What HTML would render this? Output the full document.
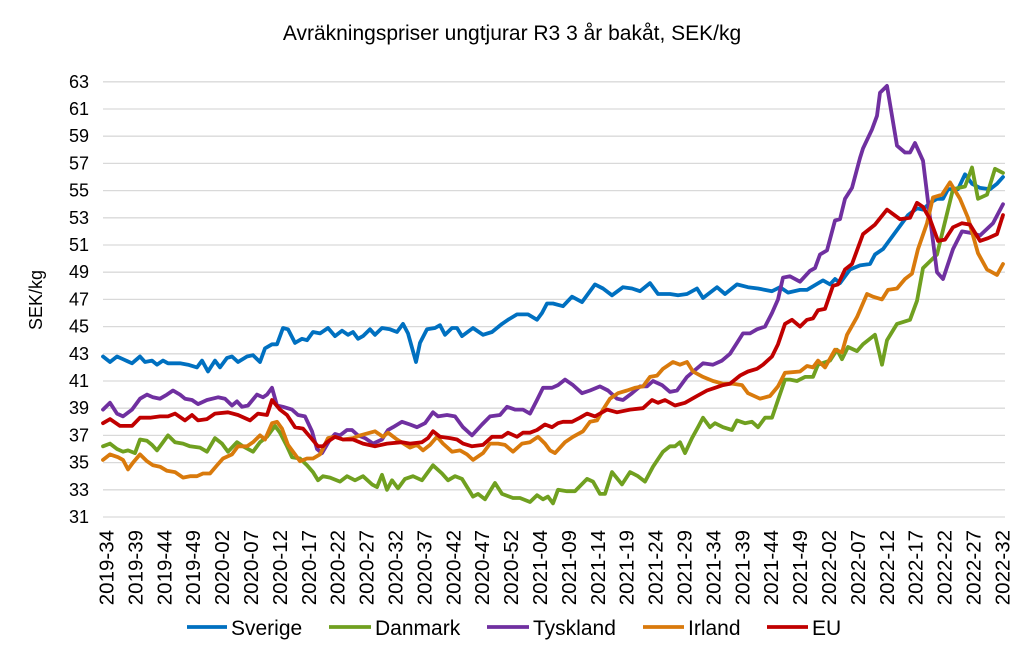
<!DOCTYPE html>
<html><head><meta charset="utf-8"><style>
html,body{margin:0;padding:0;background:#fff;}
svg{display:block;font-family:"Liberation Sans",Arial,sans-serif;}
</style></head><body>
<svg id="c" width="1023" height="658" viewBox="0 0 1023 658" xmlns="http://www.w3.org/2000/svg">
<rect width="1023" height="658" fill="#fff"/>
<text x="512" y="40" font-size="21" text-anchor="middle" fill="#000">Avräkningspriser ungtjurar R3 3 år bakåt, SEK/kg</text>
<text transform="translate(42,300) rotate(-90)" font-size="18" text-anchor="middle" fill="#000">SEK/kg</text>
<g id="grid"></g>
<g id="ylab" font-size="18" text-anchor="end" fill="#000"></g>
<g id="xlab" font-size="20.5" text-anchor="end" fill="#000"></g>
<g id="series" fill="none" stroke-width="3.8" stroke-linejoin="round" stroke-linecap="round"></g>
<g font-size="21" fill="#000">
<line x1="187" y1="627" x2="227" y2="627" stroke="#0070C0" stroke-width="3.8"/><text x="231" y="635">Sverige</text>
<line x1="329" y1="627" x2="371" y2="627" stroke="#70A020" stroke-width="3.8"/><text x="375" y="635">Danmark</text>
<line x1="487" y1="627" x2="529" y2="627" stroke="#7030A0" stroke-width="3.8"/><text x="533" y="635">Tyskland</text>
<line x1="643" y1="627" x2="684" y2="627" stroke="#D97A0C" stroke-width="3.8"/><text x="688" y="635">Irland</text>
<line x1="767" y1="627" x2="808" y2="627" stroke="#C00000" stroke-width="3.8"/><text x="812" y="635">EU</text>
</g>
</svg>
<script>
var NS="http://www.w3.org/2000/svg";
function Y(v){return 517-(v-31)*13.6;}
function el(t,a,p,txt){var e=document.createElementNS(NS,t);for(var k in a)e.setAttribute(k,a[k]);if(txt)e.textContent=txt;document.getElementById(p).appendChild(e);return e;}
for(var v=31;v<=63;v+=2){var y=Y(v);el("line",{x1:103,x2:1005,y1:y,y2:y,stroke:"#D9D9D9","stroke-width":1.3},"grid");el("text",{x:89,y:y+6},"ylab",""+v);}
var labels=[];var yr=2019,wk=34;
for(var i=0;i<156;i++){if(i%5==0)labels.push([i,yr+"-"+(wk<10?"0"+wk:wk)]);wk++;var mx=(yr==2020)?53:52;if(wk>mx){wk=1;yr++;}}
labels.forEach(function(l){var x=106+l[0]*5.78;el("text",{transform:"translate("+(x+7.5)+",530) rotate(-90)"},"xlab",l[1]);});
var S={
"#0070C0":[103,42.8,110,42.4,117,42.8,123,42.6,132,42.3,140,42.8,145,42.4,152,42.5,157,42.2,163,42.5,168,42.3,180,42.3,188,42.2,197,42.0,202,42.5,208,41.7,215,42.5,220,42.0,227,42.7,232,42.8,238,42.4,247,42.8,253,42.9,260,42.4,265,43.4,272,43.7,277,43.7,283,44.9,288,44.8,295,43.8,302,44.1,307,44.0,313,44.6,320,44.5,328,44.9,335,44.3,342,44.7,348,44.4,353,44.6,358,44.1,363,44.3,370,44.8,375,44.4,382,44.9,390,44.8,397,44.6,403,45.2,408,44.5,416,42.4,420,43.8,427,44.8,435,44.9,440,45.1,445,44.4,452,44.9,457,44.9,462,44.3,473,44.9,483,44.4,492,44.6,502,45.2,508,45.5,517,45.9,528,45.9,537,45.5,542,46.0,547,46.7,553,46.7,563,46.5,572,47.2,582,46.8,595,48.1,603,47.8,612,47.3,623,47.9,632,47.8,640,47.6,650,48.2,658,47.4,670,47.4,678,47.3,687,47.4,697,47.8,703,47.1,717,47.9,725,47.4,737,48.1,748,47.9,758,47.8,772,47.6,780,47.9,788,47.5,800,47.7,807,47.7,823,48.4,830,48.1,835,48.5,840,48.2,850,49.2,860,49.5,870,49.6,875,50.3,883,50.7,893,51.7,902,52.6,908,53.2,917,53.7,923,53.6,930,54.1,937,54.4,943,54.4,948,55.1,958,55.1,965,56.2,972,55.5,980,55.2,990,55.1,997,55.5,1003,56.0],
"#70A020":[103,36.2,110,36.4,117,36.0,123,35.8,128,35.9,135,35.7,140,36.7,147,36.6,152,36.3,157,35.9,162,36.4,168,37.0,175,36.5,183,36.4,190,36.2,200,36.1,207,35.8,215,36.8,222,36.4,228,35.8,237,36.5,243,36.2,253,35.8,260,36.5,267,36.9,275,37.7,280,37.2,287,36.2,292,35.4,300,35.3,307,34.8,313,34.3,318,33.7,323,34.0,330,33.9,340,33.6,347,34.0,355,33.7,363,34.0,372,33.4,377,33.2,382,34.1,387,33.0,392,33.7,398,33.1,405,33.8,413,34.0,422,33.7,433,34.8,442,34.2,448,33.7,455,34.0,462,33.8,473,32.5,478,32.7,485,32.3,495,33.5,502,32.7,513,32.4,520,32.4,530,32.1,537,32.6,543,32.3,548,32.5,553,32.0,558,33.0,567,32.9,575,32.9,587,33.8,593,33.6,600,32.7,605,32.7,612,34.3,622,33.4,630,34.3,638,34.0,645,33.6,653,34.7,663,35.8,670,36.2,675,36.2,680,36.5,685,35.7,692,36.8,698,37.6,703,38.3,710,37.6,715,37.9,723,37.6,732,37.4,737,38.1,745,37.9,752,38.0,758,37.6,765,38.3,772,38.3,778,39.6,785,41.1,790,41.1,797,41.0,805,41.3,813,41.3,818,42.2,830,42.5,837,43.3,842,42.6,848,43.5,857,43.2,863,43.7,875,44.4,882,42.2,887,44.0,897,45.2,910,45.5,917,46.9,923,49.3,937,50.3,943,52.1,953,55.1,965,55.3,972,56.7,978,54.4,987,54.7,995,56.6,1003,56.3],
"#7030A0":[103,38.9,110,39.4,117,38.6,123,38.4,132,38.9,140,39.7,147,40.0,153,39.8,160,39.7,167,40.0,173,40.3,180,40.0,185,39.7,192,39.6,198,39.3,207,39.6,218,39.8,225,39.7,232,39.2,237,39.5,242,39.1,248,39.2,257,40.0,263,39.8,267,40.0,272,40.5,277,39.2,283,39.1,292,38.9,298,38.5,305,38.4,312,37.3,317,36.0,322,35.7,330,36.7,335,37.1,340,37.0,347,37.4,352,37.4,358,37.0,365,36.8,373,36.4,382,36.7,388,37.4,393,37.6,402,38.0,410,37.8,417,37.6,425,37.9,433,38.7,438,38.4,447,38.5,455,38.4,463,37.6,472,37.0,482,37.8,490,38.4,500,38.5,507,39.1,515,38.9,523,38.9,530,38.6,537,39.6,543,40.5,552,40.5,558,40.7,565,41.1,573,40.7,582,40.1,590,40.3,600,40.6,608,40.3,617,39.7,623,39.6,632,40.1,640,40.6,647,40.6,653,41.0,662,40.7,670,40.2,677,40.3,687,41.3,695,41.8,703,42.3,713,42.2,722,42.5,730,43.0,737,43.8,743,44.5,750,44.5,757,44.8,765,45.0,772,46.0,778,47.0,783,48.6,790,48.7,800,48.3,810,49.1,815,49.3,820,50.3,827,50.6,835,52.8,840,52.9,845,54.4,852,55.2,860,57.4,863,58.1,872,59.5,877,60.5,880,62.2,887,62.7,897,58.3,905,57.8,910,57.8,915,58.5,923,57.2,930,53.0,937,49.0,943,48.5,953,50.7,962,52.0,970,51.9,980,51.7,993,52.6,1003,54.0],
"#D97A0C":[103,35.2,110,35.6,118,35.4,123,35.2,128,34.5,133,35.0,140,35.6,147,35.1,153,34.8,160,34.7,167,34.4,175,34.3,183,33.9,190,34.0,197,34.0,203,34.2,210,34.2,217,34.8,223,35.3,232,35.6,238,36.2,247,36.2,253,36.5,260,37.0,265,36.7,272,37.9,277,38.0,282,37.5,288,36.3,295,35.6,300,35.1,307,35.3,313,35.3,320,35.6,328,36.8,335,36.9,343,36.7,353,36.8,360,37.0,375,37.3,383,36.9,388,37.2,397,36.7,410,36.1,417,36.3,423,35.9,430,36.3,437,36.9,443,36.4,452,35.8,460,35.9,467,35.6,473,35.2,483,35.7,490,36.4,498,36.4,505,36.3,513,35.8,522,36.4,530,36.5,538,36.9,545,36.4,550,35.9,555,35.7,565,36.5,573,36.9,583,37.3,590,38.0,597,38.1,603,38.9,610,39.7,618,40.1,627,40.3,635,40.5,643,40.6,650,41.3,657,41.4,663,41.9,673,42.4,680,42.2,687,42.4,693,41.7,703,41.3,713,41.0,723,40.8,733,40.8,742,40.7,748,40.1,760,39.7,770,39.9,778,40.6,785,41.6,800,41.7,807,42.1,813,42.0,818,42.5,825,42.0,835,43.3,842,43.1,847,44.4,857,45.7,867,47.4,873,47.2,882,47.0,888,47.7,897,47.8,905,48.5,912,48.9,918,50.7,927,52.6,933,54.5,942,54.7,950,55.6,960,54.4,968,53.0,978,50.4,987,49.2,997,48.8,1003,49.6],
"#C00000":[103,37.9,110,38.2,120,37.7,132,37.7,140,38.3,150,38.3,160,38.4,168,38.4,175,38.6,185,38.1,192,38.5,198,38.1,207,38.2,215,38.6,228,38.7,238,38.5,250,38.1,258,38.6,267,38.5,272,39.6,280,38.9,287,38.5,295,37.6,303,37.5,310,36.9,318,36.2,323,36.2,327,36.5,335,36.9,343,36.7,353,36.7,363,36.4,375,36.2,387,36.4,402,36.5,410,36.4,422,36.5,428,36.8,433,37.3,440,36.9,450,36.8,457,36.7,463,36.4,472,36.2,483,36.3,492,36.9,502,36.9,508,37.2,517,36.9,523,37.2,530,37.2,537,37.4,545,37.8,552,37.6,558,37.9,563,38.0,572,38.0,580,38.3,587,38.6,595,38.4,607,38.9,617,38.7,630,38.9,643,39.0,652,39.6,658,39.4,665,39.6,675,39.2,685,39.4,697,39.9,707,40.3,715,40.5,723,40.7,730,40.8,740,41.4,748,41.7,757,41.9,763,42.2,772,42.8,778,43.7,785,45.2,792,45.5,800,45.0,807,45.5,813,45.6,818,46.2,825,46.3,833,48.0,838,48.1,845,49.2,852,49.6,863,51.8,875,52.5,887,53.6,900,52.9,910,53.0,917,54.1,923,53.8,930,52.9,938,51.3,945,51.4,953,52.3,962,52.6,970,52.5,980,51.3,988,51.5,997,51.8,1003,53.2]
};
for(var c in S){var a=S[c],p=[];for(var i=0;i<a.length;i+=2)p.push(a[i]+","+Y(a[i+1]).toFixed(1));el("polyline",{points:p.join(" "),stroke:c},"series");}
</script>
</body></html>
